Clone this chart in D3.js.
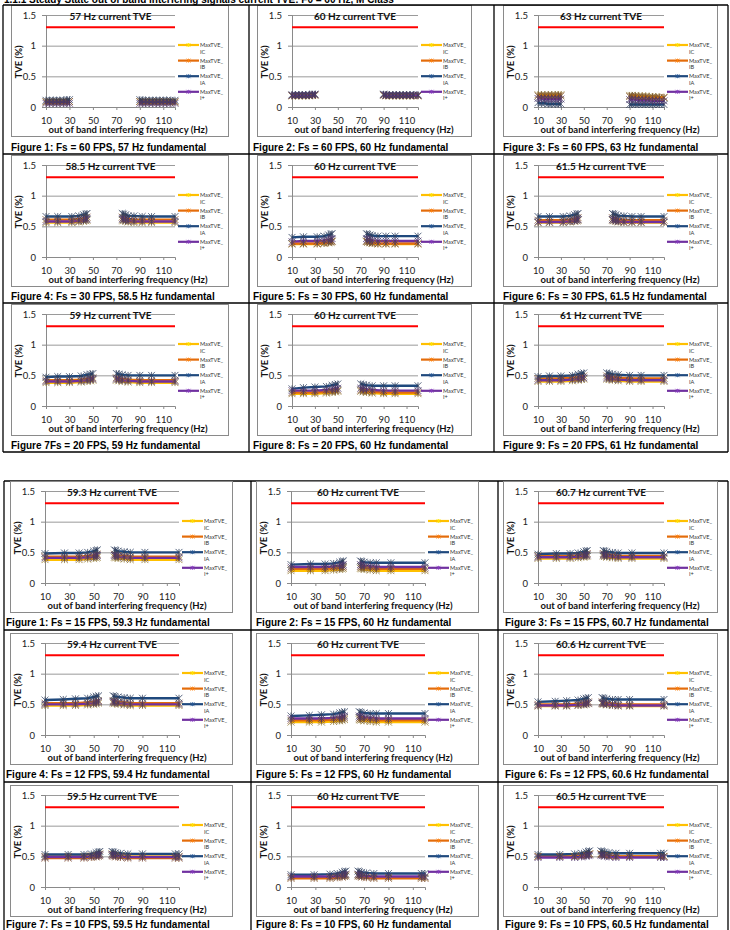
<!DOCTYPE html>
<html>
<head>
<meta charset="utf-8">
<script src="https://cdn.jsdelivr.net/npm/d3@7"></script>
<style>
  html, body { margin: 0; padding: 0; background: #fff; }
  svg { display: block; }
</style>
</head>
<body>
<svg id="page" width="730" height="930"></svg>
<script>
// ---- Text content ----
const headerText = "1.1.1 Steady State out of band interfering signals current TVE: F0 = 60 Hz, M Class";

const panelTitles = [
  "57 Hz current TVE", "60 Hz current TVE", "63 Hz current TVE",
  "58.5 Hz current TVE", "60 Hz current TVE", "61.5 Hz current TVE",
  "59 Hz current TVE", "60 Hz current TVE", "61 Hz current TVE",
  "59.3 Hz current TVE", "60 Hz current TVE", "60.7 Hz current TVE",
  "59.4 Hz current TVE", "60 Hz current TVE", "60.6 Hz current TVE",
  "59.5 Hz current TVE", "60 Hz current TVE", "60.5 Hz current TVE"
];

const captions = [
  "Figure 1: Fs = 60 FPS, 57 Hz fundamental", "Figure 2: Fs = 60 FPS, 60 Hz fundamental", "Figure 3: Fs = 60 FPS, 63 Hz fundamental",
  "Figure 4: Fs = 30 FPS, 58.5 Hz fundamental", "Figure 5: Fs = 30 FPS, 60 Hz fundamental", "Figure 6: Fs = 30 FPS, 61.5 Hz fundamental",
  "Figure 7Fs = 20 FPS, 59 Hz fundamental", "Figure 8: Fs = 20 FPS, 60 Hz fundamental", "Figure 9: Fs = 20 FPS, 61 Hz fundamental",
  "Figure 1: Fs = 15 FPS, 59.3 Hz fundamental", "Figure 2: Fs = 15 FPS, 60 Hz fundamental", "Figure 3: Fs = 15 FPS, 60.7 Hz fundamental",
  "Figure 4: Fs = 12 FPS, 59.4 Hz fundamental", "Figure 5: Fs = 12 FPS, 60 Hz fundamental", "Figure 6: Fs = 12 FPS, 60.6 Hz fundamental",
  "Figure 7: Fs = 10 FPS, 59.5 Hz fundamental", "Figure 8: Fs = 10 FPS, 60 Hz fundamental", "Figure 9: Fs = 10 FPS, 60.5 Hz fundamental"
];

// ---- Axes ----
const xTicks = [10, 30, 50, 70, 90, 110];
const xDomain = [10, 120];
const yTicks = [0, 0.5, 1, 1.5];
const yDomain = [0, 1.5];
const limitTVE = 1.3;           // 1.3 % TVE limit line
const limitSpan = [10, 120];

// ---- Series ----
const seriesNames = [["MaxTVE_", "IC"], ["MaxTVE_", "IB"], ["MaxTVE_", "IA"], ["MaxTVE_", "I+"]];
const seriesColors = ["#ffc000", "#e46c0a", "#1f497d", "#7030a0"];

// Interfering frequencies (Hz) per reporting rate; null splits the lower and upper bands
const freqs60 = [10, 13, 16, 19, 22, 25, 28, 30, null, 90, 92, 95, 98, 101, 104, 107, 110, 113, 116, 120];
const freqs30 = [10, 20, 32, 38, 42, 44, 45, null, 75, 76, 78, 80, 85, 92, 100, 120];
const freqs20 = [10, 20, 30, 40, 45, 48, 50, null, 70, 72, 75, 80, 90, 100, 120];
const freqs15 = [10, 26, 38, 45, 50, 52, 53, null, 67, 68, 70, 75, 80, 92, 120];
const freqs12 = [10, 25, 35, 45, 50, 52, 54, null, 66, 67, 70, 75, 80, 90, 120];
const freqs10 = [10, 29, 42, 48, 52, 54, 55, null, 65, 66, 68, 72, 78, 90, 117, 120];

const panelFreqs = [
  freqs60, freqs60, freqs60,
  freqs30, freqs30, freqs30,
  freqs20, freqs20, freqs20,
  freqs15, freqs15, freqs15,
  freqs12, freqs12, freqs12,
  freqs10, freqs10, freqs10
];

// Max TVE (%) for phase C current
const tveIC = [
  [0.08,0.08,0.08,0.08,0.08,0.08,0.08,0.09,null,0.09,0.08,0.08,0.08,0.08,0.08,0.08,0.08,0.08,0.08,0.08],
  [0.18,0.18,0.18,0.18,0.18,0.18,0.19,0.19,null,0.19,0.18,0.18,0.18,0.18,0.18,0.18,0.18,0.18,0.18,0.18],
  [0.20,0.20,0.20,0.20,0.20,0.20,0.20,0.20,null,0.19,0.19,0.19,0.18,0.18,0.18,0.17,0.17,0.17,0.16,0.16],
  [0.56,0.56,0.56,0.57,0.58,0.59,0.60,null,0.60,0.59,0.58,0.57,0.56,0.56,0.56,0.56],
  [0.21,0.21,0.21,0.22,0.23,0.24,0.25,null,0.25,0.24,0.23,0.22,0.21,0.21,0.21,0.21],
  [0.56,0.56,0.56,0.57,0.58,0.59,0.60,null,0.60,0.59,0.58,0.57,0.56,0.56,0.56,0.56],
  [0.38,0.38,0.38,0.39,0.40,0.41,0.42,null,0.42,0.41,0.40,0.39,0.38,0.38,0.38],
  [0.20,0.20,0.20,0.21,0.22,0.23,0.24,null,0.24,0.23,0.22,0.21,0.20,0.20,0.20],
  [0.40,0.40,0.40,0.41,0.42,0.43,0.44,null,0.44,0.43,0.42,0.41,0.40,0.40,0.40],
  [0.38,0.38,0.38,0.39,0.40,0.41,0.42,null,0.42,0.41,0.40,0.39,0.38,0.38,0.38],
  [0.20,0.20,0.20,0.21,0.22,0.23,0.24,null,0.24,0.23,0.22,0.21,0.20,0.20,0.20],
  [0.40,0.40,0.40,0.41,0.42,0.43,0.44,null,0.44,0.43,0.42,0.41,0.40,0.40,0.40],
  [0.48,0.48,0.48,0.49,0.50,0.51,0.52,null,0.52,0.51,0.50,0.49,0.48,0.48,0.48],
  [0.21,0.21,0.21,0.22,0.23,0.24,0.25,null,0.25,0.24,0.23,0.22,0.21,0.21,0.21],
  [0.47,0.47,0.47,0.48,0.49,0.50,0.51,null,0.51,0.50,0.49,0.48,0.47,0.47,0.47],
  [0.50,0.50,0.50,0.51,0.52,0.53,0.54,null,0.54,0.53,0.52,0.51,0.50,0.50,0.50,0.50],
  [0.16,0.16,0.16,0.17,0.18,0.19,0.20,null,0.20,0.19,0.18,0.17,0.16,0.16,0.16,0.16],
  [0.50,0.50,0.50,0.51,0.52,0.53,0.54,null,0.54,0.53,0.52,0.51,0.50,0.50,0.50,0.50]
];

// Max TVE (%) for phase B current
const tveIB = [
  [0.09,0.09,0.09,0.09,0.09,0.09,0.09,0.09,null,0.09,0.09,0.09,0.09,0.09,0.09,0.09,0.09,0.09,0.09,0.09],
  [0.19,0.19,0.19,0.19,0.19,0.19,0.19,0.20,null,0.20,0.19,0.19,0.19,0.19,0.19,0.19,0.19,0.19,0.19,0.19],
  [0.18,0.18,0.18,0.18,0.18,0.18,0.18,0.18,null,0.17,0.17,0.17,0.16,0.16,0.16,0.15,0.15,0.15,0.15,0.15],
  [0.61,0.61,0.61,0.62,0.63,0.64,0.65,null,0.65,0.64,0.63,0.62,0.61,0.61,0.61,0.61],
  [0.22,0.22,0.22,0.23,0.24,0.25,0.26,null,0.26,0.25,0.24,0.23,0.22,0.22,0.22,0.22],
  [0.60,0.60,0.60,0.61,0.62,0.63,0.64,null,0.64,0.63,0.62,0.61,0.60,0.60,0.60,0.60],
  [0.42,0.42,0.42,0.43,0.44,0.45,0.46,null,0.46,0.45,0.44,0.43,0.42,0.42,0.42],
  [0.22,0.22,0.22,0.23,0.24,0.25,0.26,null,0.26,0.25,0.24,0.23,0.22,0.22,0.22],
  [0.45,0.45,0.45,0.46,0.47,0.48,0.49,null,0.49,0.48,0.47,0.46,0.45,0.45,0.45],
  [0.43,0.43,0.43,0.44,0.45,0.46,0.47,null,0.47,0.46,0.45,0.44,0.43,0.43,0.43],
  [0.23,0.23,0.23,0.24,0.25,0.26,0.27,null,0.27,0.26,0.25,0.24,0.23,0.23,0.23],
  [0.44,0.44,0.44,0.45,0.46,0.47,0.48,null,0.48,0.47,0.46,0.45,0.44,0.44,0.44],
  [0.52,0.52,0.52,0.53,0.54,0.55,0.56,null,0.56,0.55,0.54,0.53,0.52,0.52,0.52],
  [0.24,0.24,0.24,0.25,0.26,0.27,0.28,null,0.28,0.27,0.26,0.25,0.24,0.24,0.24],
  [0.50,0.50,0.50,0.51,0.52,0.53,0.54,null,0.54,0.53,0.52,0.51,0.50,0.50,0.50],
  [0.47,0.47,0.47,0.48,0.49,0.50,0.51,null,0.51,0.50,0.49,0.48,0.47,0.47,0.47,0.47],
  [0.14,0.14,0.14,0.15,0.16,0.17,0.18,null,0.18,0.17,0.16,0.15,0.14,0.14,0.14,0.14],
  [0.50,0.50,0.50,0.51,0.52,0.53,0.54,null,0.54,0.53,0.52,0.51,0.50,0.50,0.50,0.50]
];

// Max TVE (%) for phase A current
const tveIA = [
  [0.11,0.11,0.11,0.11,0.11,0.11,0.12,0.12,null,0.12,0.11,0.11,0.11,0.11,0.11,0.11,0.11,0.11,0.11,0.11],
  [0.20,0.20,0.20,0.20,0.20,0.20,0.21,0.21,null,0.21,0.20,0.20,0.20,0.20,0.20,0.20,0.20,0.20,0.20,0.20],
  [0.07,0.06,0.06,0.05,0.05,0.05,0.05,0.05,null,0.04,0.04,0.04,0.04,0.04,0.04,0.04,0.04,0.04,0.04,0.04],
  [0.66,0.66,0.66,0.67,0.69,0.70,0.71,null,0.71,0.70,0.69,0.67,0.67,0.66,0.66,0.66],
  [0.32,0.33,0.33,0.34,0.36,0.37,0.38,null,0.38,0.37,0.36,0.35,0.34,0.34,0.34,0.34],
  [0.66,0.66,0.66,0.67,0.69,0.70,0.71,null,0.71,0.70,0.69,0.67,0.67,0.66,0.66,0.66],
  [0.47,0.48,0.48,0.49,0.51,0.52,0.53,null,0.53,0.52,0.51,0.50,0.50,0.50,0.50],
  [0.28,0.30,0.31,0.32,0.34,0.35,0.36,null,0.36,0.35,0.34,0.33,0.33,0.33,0.33],
  [0.48,0.49,0.49,0.50,0.52,0.53,0.54,null,0.54,0.53,0.52,0.51,0.50,0.50,0.50],
  [0.48,0.49,0.49,0.50,0.52,0.53,0.54,null,0.54,0.53,0.52,0.51,0.50,0.50,0.50],
  [0.30,0.31,0.31,0.32,0.34,0.35,0.36,null,0.36,0.35,0.34,0.33,0.33,0.33,0.33],
  [0.47,0.48,0.48,0.49,0.51,0.52,0.53,null,0.53,0.52,0.51,0.50,0.49,0.49,0.49],
  [0.57,0.58,0.59,0.60,0.62,0.63,0.64,null,0.64,0.63,0.62,0.61,0.60,0.60,0.60],
  [0.31,0.32,0.33,0.34,0.36,0.37,0.38,null,0.38,0.37,0.36,0.35,0.35,0.35,0.35],
  [0.54,0.55,0.56,0.57,0.59,0.60,0.61,null,0.61,0.60,0.59,0.58,0.58,0.58,0.58],
  [0.53,0.53,0.53,0.54,0.56,0.57,0.58,null,0.58,0.57,0.56,0.55,0.54,0.54,0.54,0.54],
  [0.20,0.20,0.21,0.22,0.24,0.25,0.26,null,0.26,0.25,0.24,0.23,0.22,0.22,0.22,0.22],
  [0.53,0.53,0.54,0.55,0.57,0.58,0.59,null,0.59,0.58,0.57,0.56,0.55,0.55,0.55,0.55]
];

// Max TVE (%) for positive-sequence current
const tveIplus = [
  [0.06,0.06,0.06,0.06,0.06,0.06,0.06,0.06,null,0.06,0.06,0.06,0.06,0.06,0.06,0.06,0.06,0.06,0.06,0.06],
  [0.19,0.19,0.19,0.19,0.19,0.19,0.20,0.20,null,0.20,0.19,0.19,0.19,0.19,0.19,0.19,0.19,0.19,0.19,0.19],
  [0.14,0.14,0.13,0.13,0.13,0.13,0.13,0.13,null,0.12,0.12,0.12,0.11,0.11,0.11,0.11,0.10,0.10,0.10,0.10],
  [0.58,0.58,0.58,0.59,0.60,0.61,0.62,null,0.62,0.61,0.60,0.59,0.58,0.58,0.58,0.58],
  [0.25,0.26,0.26,0.27,0.28,0.29,0.30,null,0.30,0.29,0.28,0.27,0.26,0.26,0.26,0.26],
  [0.57,0.57,0.57,0.58,0.59,0.60,0.61,null,0.61,0.60,0.59,0.58,0.57,0.57,0.57,0.57],
  [0.40,0.40,0.40,0.41,0.42,0.43,0.44,null,0.44,0.43,0.42,0.41,0.40,0.40,0.40],
  [0.25,0.25,0.25,0.26,0.27,0.28,0.29,null,0.29,0.28,0.27,0.26,0.25,0.25,0.25],
  [0.42,0.42,0.42,0.43,0.44,0.45,0.46,null,0.46,0.45,0.44,0.43,0.42,0.42,0.42],
  [0.41,0.41,0.41,0.42,0.43,0.44,0.45,null,0.45,0.44,0.43,0.42,0.41,0.41,0.41],
  [0.26,0.26,0.26,0.27,0.28,0.29,0.30,null,0.30,0.29,0.28,0.27,0.26,0.26,0.26],
  [0.42,0.42,0.42,0.43,0.44,0.45,0.46,null,0.46,0.45,0.44,0.43,0.42,0.42,0.42],
  [0.50,0.50,0.50,0.51,0.52,0.53,0.54,null,0.54,0.53,0.52,0.51,0.50,0.50,0.50],
  [0.27,0.27,0.27,0.28,0.29,0.30,0.31,null,0.31,0.30,0.29,0.28,0.27,0.27,0.27],
  [0.48,0.48,0.48,0.49,0.50,0.51,0.52,null,0.52,0.51,0.50,0.49,0.48,0.48,0.48],
  [0.49,0.49,0.49,0.50,0.51,0.52,0.53,null,0.53,0.52,0.51,0.50,0.49,0.49,0.49,0.49],
  [0.17,0.17,0.17,0.18,0.19,0.20,0.21,null,0.21,0.20,0.19,0.18,0.17,0.17,0.17,0.17],
  [0.48,0.48,0.48,0.49,0.50,0.51,0.52,null,0.52,0.51,0.50,0.49,0.48,0.48,0.48,0.48]
];

const seriesValues = [tveIC, tveIB, tveIA, tveIplus];

// ---- Page layout ----
const svg = d3.select("#page");
const chartFont = "Lato, 'Open Sans', sans-serif";
const docFont = "'Liberation Sans', Arial, sans-serif";

svg.append("text")
  .attr("x", 4).attr("y", 3)
  .attr("font-family", docFont).attr("font-weight", "bold").attr("font-size", 10)
  .text(headerText);

// Two 3x3 tables; each cell holds a chart box and a caption underneath
const tables = [
  { left: 3, right: 728, top: 5, rowLines: [154, 303, 452], colLines: [249, 494],
    boxX: [11, 257, 503], boxW: [218, 215, 215], boxY: [5, 155, 304], boxH: 132,
    capX: [11, 253, 503], capY: [151, 300, 449], bottom: 452 },
  { left: 4, right: 728, top: 481, rowLines: [630, 782], colLines: [251, 498],
    boxX: [10, 256, 503], boxW: [223, 223, 215], boxY: [481, 633, 785], boxH: 132,
    capX: [6, 256, 505], capY: [626, 778, 928], bottom: 940 }
];

function tableLines(t) {
  const g = svg.append("g").attr("stroke", "#000").attr("stroke-width", 1.3);
  [t.top, ...t.rowLines].forEach(y =>
    g.append("line").attr("x1", t.left).attr("x2", t.right).attr("y1", y).attr("y2", y));
  [t.left, ...t.colLines, t.right].forEach(x =>
    g.append("line").attr("x1", x).attr("x2", x).attr("y1", t.top).attr("y2", t.bottom));
}

function starPath(s) {
  return `M${-s},${-s}L${s},${s}M${-s},${s}L${s},${-s}M0,${-s}L0,${s}`;
}

function drawChart(bx, by, bw, bh, idx) {
  const g = svg.append("g");
  g.append("rect")
    .attr("x", bx + 0.5).attr("y", by + 0.5)
    .attr("width", bw - 1).attr("height", bh - 1)
    .attr("fill", "#fff").attr("stroke", "#8a8a8a").attr("stroke-width", 1);

  const x = d3.scaleLinear().domain(xDomain).range([bx + 35, bx + bw - 54]);
  const y = d3.scaleLinear().domain(yDomain).range([by + 102, by + 10]);

  // gridlines
  g.append("g")
    .attr("transform", `translate(${x.range()[0]},0)`)
    .call(d3.axisLeft(y).tickValues(yTicks.filter(v => v > 0))
      .tickSize(-(x.range()[1] - x.range()[0])).tickFormat(""))
    .call(a => a.select(".domain").remove())
    .call(a => a.selectAll("line").attr("stroke", "#9a9a9a").attr("stroke-width", 1));

  // y axis
  const ya = g.append("g")
    .attr("transform", `translate(${x.range()[0]},0)`)
    .call(d3.axisLeft(y).tickValues(yTicks).tickSize(4).tickPadding(6)
      .tickFormat(d3.format("~g")));
  ya.select(".domain").attr("stroke", "#8a8a8a");
  ya.selectAll("line").attr("stroke", "#8a8a8a");
  ya.selectAll("text").attr("font-family", chartFont).attr("font-size", 9.5).attr("fill", "#222");

  // x axis
  const xa = g.append("g")
    .attr("transform", `translate(0,${y(0)})`)
    .call(d3.axisBottom(x).tickValues(xTicks).tickSize(3).tickPadding(4));
  xa.select(".domain").attr("stroke", "#8a8a8a");
  xa.selectAll("line").attr("stroke", "#8a8a8a");
  xa.selectAll("text").attr("font-family", chartFont).attr("font-size", 9.5).attr("fill", "#222")
    .attr("dy", null).attr("y", 16.5);

  // limit line
  g.append("line")
    .attr("x1", x(limitSpan[0])).attr("x2", x(limitSpan[1]))
    .attr("y1", y(limitTVE)).attr("y2", y(limitTVE))
    .attr("stroke", "#ff0000").attr("stroke-width", 2.2);

  // series lines, then star markers
  const freqs = panelFreqs[idx];
  const line = d3.line()
    .defined(d => d.f != null && d.v != null)
    .x(d => x(d.f)).y(d => y(d.v));
  seriesValues.forEach((vals, k) => {
    const pts = freqs.map((f, i) => ({ f, v: vals[idx][i] }));
    g.append("path").datum(pts)
      .attr("d", line).attr("fill", "none")
      .attr("stroke", seriesColors[k]).attr("stroke-width", 2.4);
  });
  seriesValues.forEach((vals, k) => {
    const pts = freqs.map((f, i) => ({ f, v: vals[idx][i] })).filter(d => d.f != null && d.v != null);
    g.append("g").selectAll("path").data(pts).join("path")
      .attr("transform", d => `translate(${x(d.f)},${y(d.v)})`)
      .attr("d", starPath(3.4))
      .attr("fill", "none")
      .attr("stroke", d3.color(seriesColors[k]).darker(0.6).copy({ opacity: 0.55 }))
      .attr("stroke-width", 1);
    g.append("g").selectAll("path").data(pts).join("path")
      .attr("transform", d => `translate(${x(d.f)},${y(d.v)})`)
      .attr("d", starPath(3.4))
      .attr("fill", "none")
      .attr("stroke", "rgba(70,70,90,0.35)")
      .attr("stroke-width", 1);
  });

  // chart title
  g.append("text")
    .attr("x", (x.range()[0] + x.range()[1]) / 2).attr("y", by + 14.5)
    .attr("text-anchor", "middle")
    .attr("font-family", chartFont).attr("font-weight", "bold").attr("font-size", 10)
    .attr("fill", "#111")
    .text(panelTitles[idx]);

  // axis titles
  g.append("text")
    .attr("x", bx + 117).attr("y", by + 128)
    .attr("text-anchor", "middle")
    .attr("font-family", chartFont).attr("font-weight", "bold").attr("font-size", 9.5)
    .attr("fill", "#111")
    .text("out of band interfering frequency (Hz)");
  g.append("text")
    .attr("transform", `translate(${bx + 11},${by + 57}) rotate(-90)`)
    .attr("text-anchor", "middle")
    .attr("font-family", chartFont).attr("font-weight", "bold").attr("font-size", 9.5)
    .attr("fill", "#111")
    .text("TVE (%)");

  // legend
  const lx = bx + bw - 51;
  seriesNames.forEach((nm, k) => {
    const ly = by + 40 + k * 15.6;
    g.append("line").attr("x1", lx).attr("x2", lx + 21).attr("y1", ly).attr("y2", ly)
      .attr("stroke", seriesColors[k]).attr("stroke-width", 2.2);
    g.append("path").attr("transform", `translate(${lx + 10.5},${ly})`).attr("d", starPath(2))
      .attr("stroke", d3.color(seriesColors[k]).brighter(0.5)).attr("stroke-width", 0.8).attr("fill", "none");
    const t = g.append("text").attr("x", lx + 22).attr("y", ly + 2)
      .attr("font-family", chartFont).attr("font-size", 5.6).attr("fill", "#333");
    t.append("tspan").text(nm[0]);
    t.append("tspan").attr("x", lx + 22).attr("dy", 6.6).text(nm[1]);
  });
}

tables.forEach((t, ti) => {
  if (ti === 1) tableLines(t);
  for (let r = 0; r < 3; r++) {
    for (let c = 0; c < 3; c++) {
      const idx = ti * 9 + r * 3 + c;
      drawChart(t.boxX[c], t.boxY[r], t.boxW[c], t.boxH, idx);
      svg.append("text")
        .attr("x", t.capX[c]).attr("y", t.capY[r])
        .attr("font-family", docFont).attr("font-weight", "bold").attr("font-size", 10)
        .text(captions[idx]);
    }
  }
  if (ti === 0) tableLines(t);
});
</script>
</body>
</html>
